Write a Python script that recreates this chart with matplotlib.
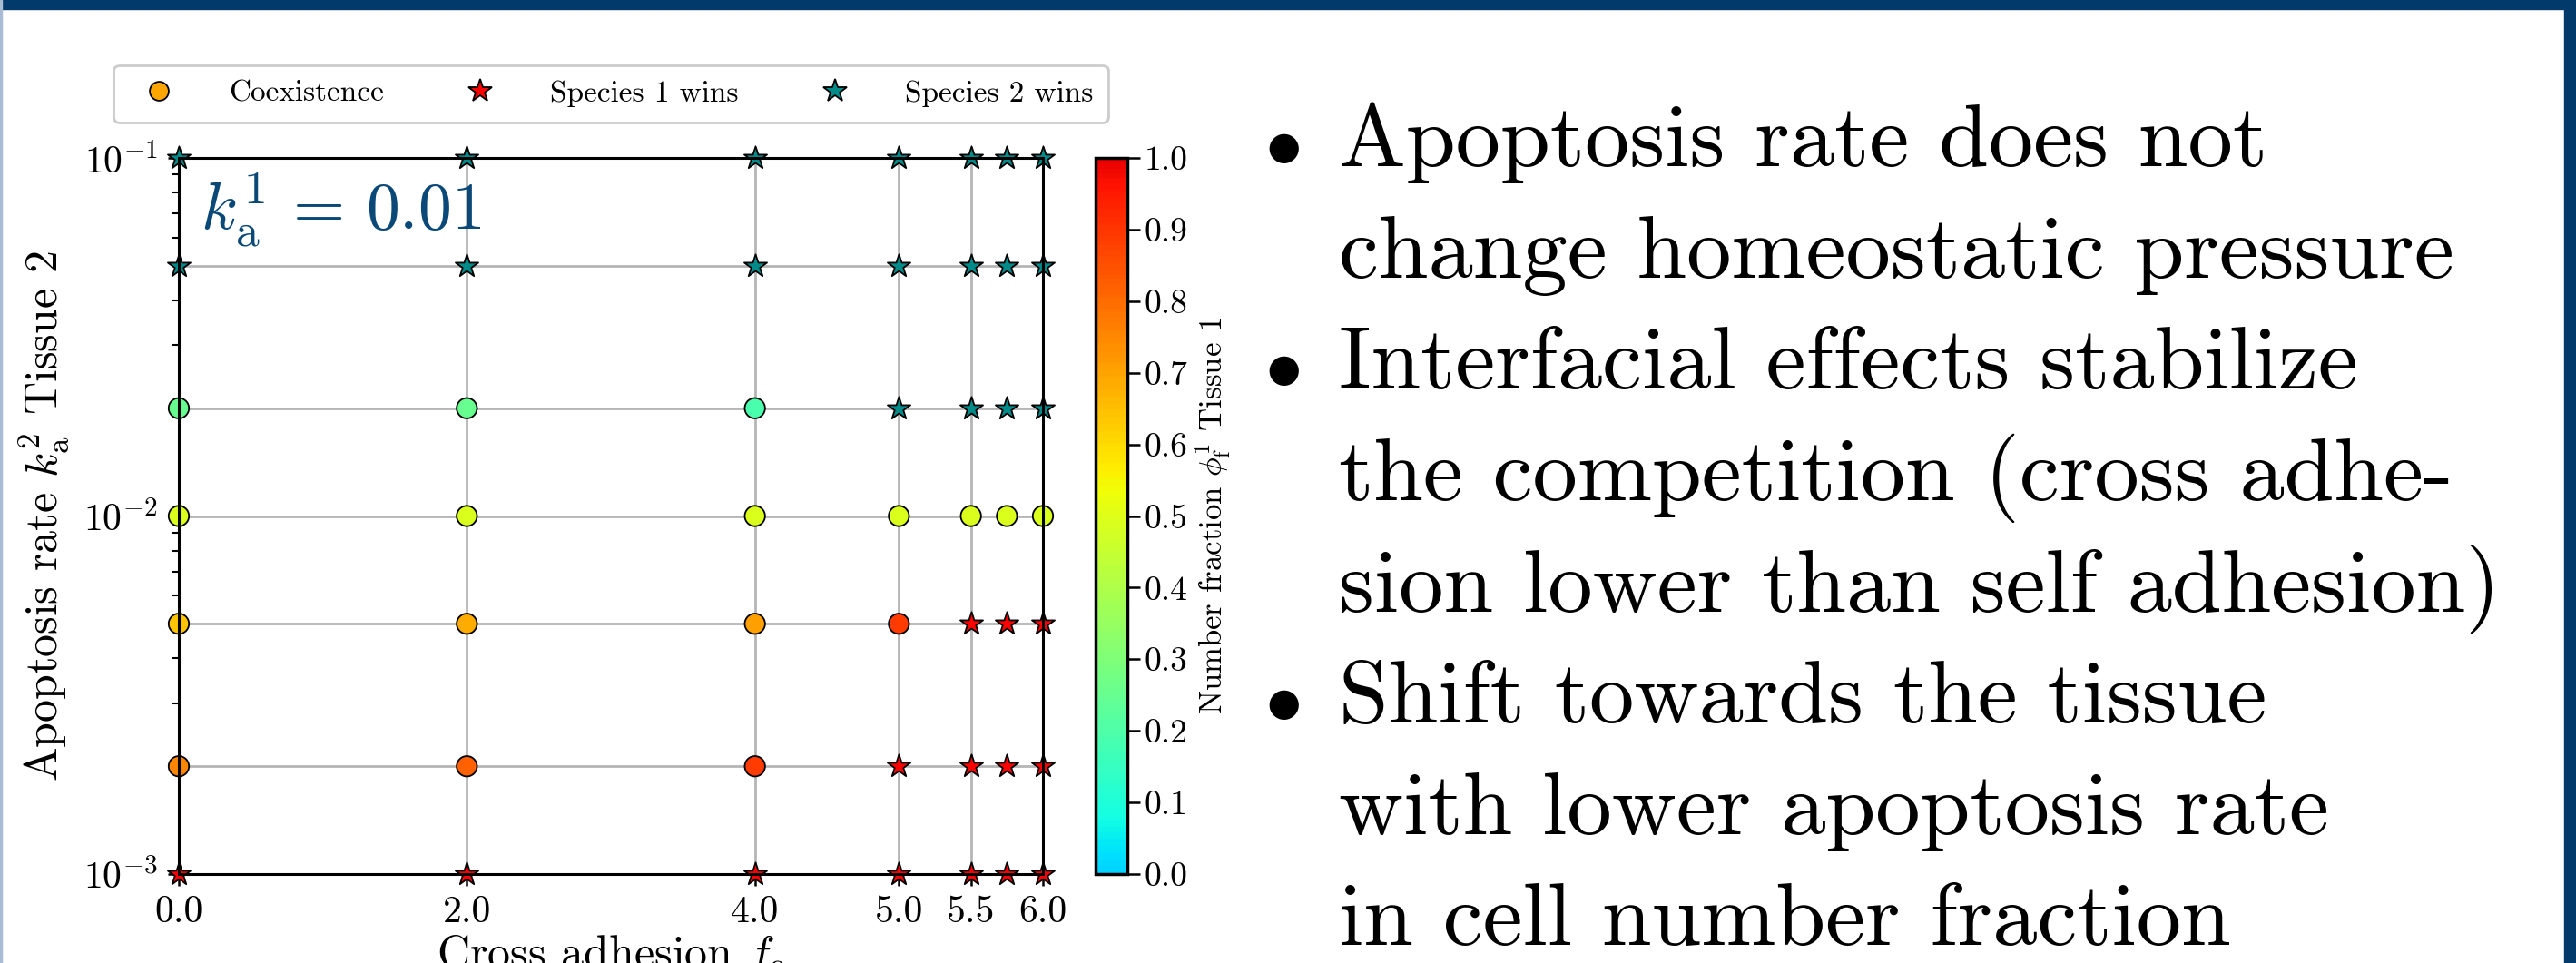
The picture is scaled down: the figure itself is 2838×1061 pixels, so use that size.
import numpy as np
import matplotlib
import matplotlib.pyplot as plt
import matplotlib.colors as mcolors
from matplotlib.lines import Line2D
from matplotlib.patches import Rectangle

plt.rcParams['font.family'] = 'cmr10'
plt.rcParams['mathtext.fontset'] = 'cm'
plt.rcParams['axes.unicode_minus'] = False
plt.rcParams['axes.formatter.use_mathtext'] = True

# data
fc = [0.0, 2.0, 4.0, 5.0, 5.5, 5.75, 6.0]            # cross adhesion
ka2 = [0.001, 0.002, 0.005, 0.01, 0.02, 0.05, 0.1]   # apoptosis rate tissue 2
xtick_vals = [0.0, 2.0, 4.0, 5.0, 5.5, 6.0]
xtick_labels = ['0.0', '2.0', '4.0', '5.0', '5.5', '6.0']

# outcome per row (ka2, bottom to top) and column (fc): C coexistence, 1 / 2 species wins
outcome = [
    ['1', '1', '1', '1', '1', '1', '1'],
    ['C', 'C', 'C', '1', '1', '1', '1'],
    ['C', 'C', 'C', 'C', '1', '1', '1'],
    ['C', 'C', 'C', 'C', 'C', 'C', 'C'],
    ['C', 'C', 'C', '2', '2', '2', '2'],
    ['2', '2', '2', '2', '2', '2', '2'],
    ['2', '2', '2', '2', '2', '2', '2'],
]
# number fraction of tissue 1 for the coexistence points (nan otherwise)
nan = np.nan
phi1 = [
    [nan, nan, nan, nan, nan, nan, nan],
    [0.75, 0.82, 0.89, nan, nan, nan, nan],
    [0.64, 0.69, 0.71, 0.89, nan, nan, nan],
    [0.49, 0.49, 0.49, 0.49, 0.49, 0.49, 0.49],
    [0.25, 0.25, 0.19, nan, nan, nan, nan],
    [nan, nan, nan, nan, nan, nan, nan],
    [nan, nan, nan, nan, nan, nan, nan],
]

bullets = [
    ['Apoptosis rate does not', 'change homeostatic pressure'],
    ['Interfacial effects stabilize', 'the competition (cross adhe-', 'sion lower than self adhesion)'],
    ['Shift towards the tissue', 'with lower apoptosis rate', 'in cell number fraction'],
]

cmap = mcolors.ListedColormap(matplotlib.colormaps['jet'](np.linspace(0.33, 0.91, 256)))
norm = mcolors.Normalize(0, 1)

W, H = 2838, 1061
fig = plt.figure(figsize=(W / 100, H / 100), dpi=100)


def px(x0, y0, x1, y1):
    return [x0 / W, 1 - y1 / H, (x1 - x0) / W, (y1 - y0) / H]


ax = fig.add_axes(px(197, 174, 1149, 963))
cax = fig.add_axes(px(1207, 174, 1242, 963))

# split points into groups
cx, cy, cv, s1x, s1y, s2x, s2y = [], [], [], [], [], [], []
for i, y in enumerate(ka2):
    for j, x in enumerate(fc):
        o = outcome[i][j]
        if o == 'C':
            cx.append(x); cy.append(y); cv.append(phi1[i][j])
        elif o == '1':
            s1x.append(x); s1y.append(y)
        else:
            s2x.append(x); s2y.append(y)

gridc = '#b5b5b5'
for y in ka2:
    ax.axhline(y, color=gridc, lw=2, zorder=0)
for x in xtick_vals:
    ax.axvline(x, color=gridc, lw=2, zorder=0)

ax.scatter(cx, cy, c=cv, cmap=cmap, norm=norm, s=260, marker='o',
           edgecolors='k', linewidths=1.3, clip_on=False, zorder=2)
ax.scatter(s1x, s1y, color='red', s=360, marker='*',
           edgecolors='k', linewidths=1.3, clip_on=False, zorder=2)
ax.scatter(s2x, s2y, color='darkcyan', s=360, marker='*',
           edgecolors='k', linewidths=1.3, clip_on=False, zorder=2)

ax.set_yscale('log')
ax.set_xlim(0, 6)
ax.set_ylim(1e-3, 1e-1)
ax.set_xticks(xtick_vals)
ax.set_xticklabels(xtick_labels)
ax.tick_params(which='major', length=9, width=1.8, labelsize=30, direction='out', pad=8)
ax.tick_params(which='minor', length=5, width=1.5)
for sp in ax.spines.values():
    sp.set_linewidth(2.2)
    sp.set_zorder(3)

ax.set_xlabel(r'Cross adhesion $f_\mathrm{c}$', fontsize=36)
ax.xaxis.set_label_coords(0.5, -0.082)
ax.set_ylabel(r'Apoptosis rate $k_\mathrm{a}^2$ Tissue 2', fontsize=36)
ax.yaxis.set_label_coords(-0.125, 0.5)

ax.text(0.025, 0.9, r'$k_\mathrm{a}^1 \,=\, 0.01$', transform=ax.transAxes,
        fontsize=53, color='#0a4878', va='baseline')

handles = [
    Line2D([], [], ls='', marker='o', mfc='orange', mec='k', mew=1.3, ms=15, label='Coexistence'),
    Line2D([], [], ls='', marker='*', mfc='red', mec='k', mew=1.3, ms=19, label='Species 1 wins'),
    Line2D([], [], ls='', marker='*', mfc='darkcyan', mec='k', mew=1.3, ms=19, label='Species 2 wins'),
]
leg = ax.legend(handles=handles, loc='lower center', bbox_to_anchor=(0.5, 1.05), ncol=3,
                fontsize=24, frameon=True, fancybox=True, framealpha=1,
                edgecolor='#cccccc', handletextpad=1.3, columnspacing=2.2,
                borderaxespad=0, borderpad=0.5)
leg.get_frame().set_linewidth(2)

sm = matplotlib.cm.ScalarMappable(norm=norm, cmap=cmap)
cb = fig.colorbar(sm, cax=cax)
cb.set_ticks(np.round(np.arange(0, 1.01, 0.1), 1))
cb.set_ticklabels(['%.1f' % t for t in np.arange(0, 1.01, 0.1)])
cb.outline.set_linewidth(2.5)
cax.tick_params(labelsize=27, length=10, width=1.8)
cb.set_label(r'Number fraction $\phi_\mathrm{f}^1$ Tissue 1', fontsize=25, labelpad=4)

# bullet text
base = 183
step = 122.6
k = 0
for item in bullets:
    for n, line in enumerate(item):
        yb = 1 - (base + k * step) / H
        if n == 0:
            fig.text(1412 / W, yb, r'$\bullet$', fontsize=60, ha='center', va='baseline')
        fig.text(1475 / W, yb, line, fontsize=71, va='baseline')
        k += 1

# slide frame
band = '#033a6c'
fig.patches.append(Rectangle((0, 1 - 10 / H), 1, 10 / H, transform=fig.transFigure,
                             color=band, zorder=10))
fig.patches.append(Rectangle((2825 / W, 0), 13 / W, 1, transform=fig.transFigure,
                             color=band, zorder=10))
fig.patches.append(Rectangle((0, 0), 2 / W, 1, transform=fig.transFigure,
                             color='#a8bdd4', zorder=10))

fig.savefig('out.png', dpi=100)
